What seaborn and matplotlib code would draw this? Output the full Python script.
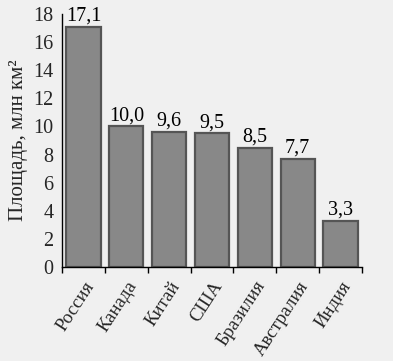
import matplotlib
matplotlib.use("Agg")
import matplotlib.pyplot as plt
import seaborn as sns
import numpy as np

countries = ["Россия", "Канада", "Китай", "США", "Бразилия", "Австралия", "Индия"]
areas = [17.1, 10.0, 9.6, 9.5, 8.5, 7.7, 3.3]
y_ticks = [0, 2, 4, 6, 8, 10, 12, 14, 16, 18]

sns.set_theme(style="white")
plt.rcParams["font.family"] = ["Liberation Serif", "DejaVu Serif"]
plt.rcParams["axes.facecolor"] = "#f0f0f0"
plt.rcParams["figure.facecolor"] = "#f0f0f0"

fig = plt.figure(figsize=(3.93, 3.61), dpi=100)
ax = fig.add_axes([62 / 393, 1 - 267 / 361, 300 / 393, 253 / 361])

sns.barplot(x=countries, y=areas, color="#888888", saturation=1,
            edgecolor="#555555", linewidth=1.6, width=0.8, ax=ax)

labels = [f"{v:.1f}".replace(".", ",") for v in areas]
ax.bar_label(ax.containers[0], labels=labels, padding=1, fontsize=14.5, color="black")

ax.set_ylim(0, 18)
ax.set_xlim(-0.5, len(countries) - 0.5)
ax.set_yticks(y_ticks)
ax.set_yticklabels([str(t) for t in y_ticks], fontsize=14.5)
ax.tick_params(axis="y", direction="out", length=4, width=1, color="black", pad=2)

# category boundaries carry the x ticks; labels sit under bar centers
ax.set_xticks(np.arange(len(countries)))
ax.set_xticklabels(countries, rotation=57, ha="right", rotation_mode="anchor", fontsize=13.5)
ax.tick_params(axis="x", which="major", length=0, pad=8)
ax.set_xticks(np.arange(len(countries) + 1) - 0.5, minor=True)
ax.tick_params(axis="x", which="minor", direction="out", length=4, width=1, color="black", bottom=True)

for side in ["top", "right"]:
    ax.spines[side].set_visible(False)
for side in ["left", "bottom"]:
    ax.spines[side].set_color("black")
    ax.spines[side].set_linewidth(1)

ax.set_ylabel("Площадь, млн км²", fontsize=15, labelpad=4)
ax.set_xlabel("")

fig.savefig("out.png", dpi=100, facecolor="#f0f0f0")
